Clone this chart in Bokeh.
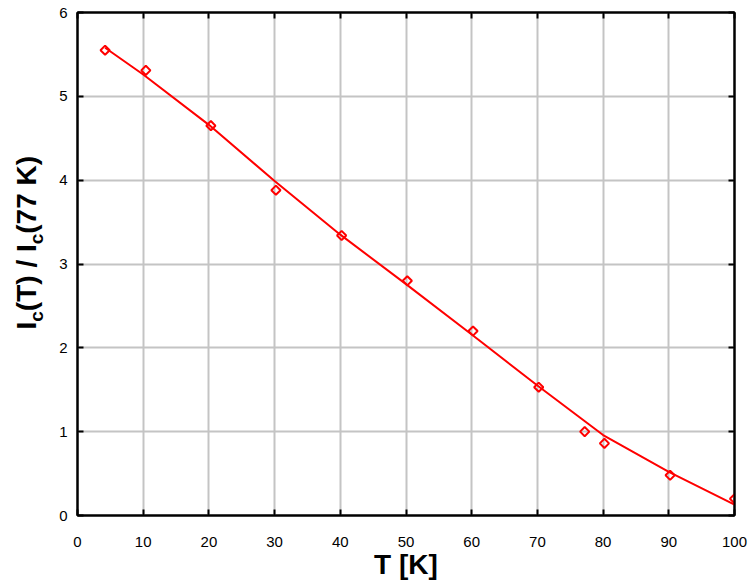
import math
from bokeh.plotting import figure
from bokeh.layouts import row
from bokeh.models import LinearAxis, Range1d, FixedTicker, CustomJSTickFormatter, Grid
from bokeh.core.properties import value
from bokeh.embed import file_html
from bokeh.resources import INLINE

# measured points
temps = [4.2, 10.4, 20.3, 30.2, 40.2, 50.2, 60.2, 70.2, 77.2, 80.2, 90.2, 100.0]
ratio = [5.55, 5.31, 4.65, 3.88, 3.34, 2.80, 2.20, 1.53, 1.00, 0.86, 0.48, 0.20]
# fitted curve
fit_t = [4.2, 10, 20, 30, 40, 50, 60, 70, 80, 90, 100]
fit_v = [5.58, 5.26, 4.66, 3.99, 3.35, 2.76, 2.16, 1.55, 0.96, 0.52, 0.13]
x_ticks = [0, 10, 20, 30, 40, 50, 60, 70, 80, 90, 100]
y_ticks = [0, 1, 2, 3, 4, 5, 6]
x_title = "T [K]"
y_title_parts = ["I", "c", "(T) / I", "c", "(77 K)"]
y_title_sub = [False, True, False, True, False]

FONT = "Liberation Sans"
RED = "#ff0000"
GRID = "#c4c4c4"

TOTAL_W, H = 749, 588
LW = 50                      # width of the y-title strip
W = TOTAL_W - LW
ML, MR, MT, MB = 77 - LW, 15, 12, 73

p = figure(width=W, height=H, x_range=Range1d(0, 100), y_range=Range1d(0, 6),
           output_backend="svg", toolbar_location=None,
           min_border_left=ML, min_border_right=MR, min_border_top=MT, min_border_bottom=MB,
           x_axis_location=None, y_axis_location=None)
p.outline_line_color = "black"
p.outline_line_width = 2
p.background_fill_color = "white"
p.border_fill_color = "white"


def make_axis(labels, ticks):
    ax = LinearAxis(ticker=FixedTicker(ticks=ticks))
    ax.axis_line_color = "black"
    ax.axis_line_width = 2
    ax.major_tick_in = 6
    ax.major_tick_out = 0
    ax.major_tick_line_width = 2
    ax.major_tick_line_color = "black"
    ax.minor_tick_line_color = None
    ax.major_label_text_font = FONT
    ax.major_label_text_font_size = "15px"
    ax.major_label_text_color = "black"
    if not labels:
        ax.formatter = CustomJSTickFormatter(code="return ''")
        ax.major_label_text_font_size = "1px"
        ax.major_label_standoff = 0
    return ax


xb = make_axis(True, x_ticks)
xb.major_label_standoff = 21
xb.axis_label = x_title
xb.axis_label_text_font = FONT
xb.axis_label_text_font_size = "28px"
xb.axis_label_text_font_style = "bold"
xb.axis_label_text_color = "black"
xb.axis_label_standoff = -1
p.add_layout(xb, "below")

yl = make_axis(True, y_ticks)
yl.major_label_standoff = 10
p.add_layout(yl, "left")

p.add_layout(make_axis(False, x_ticks), "above")
p.add_layout(make_axis(False, y_ticks), "right")

p.add_layout(Grid(dimension=0, ticker=FixedTicker(ticks=x_ticks), grid_line_color=GRID, grid_line_width=2))
p.add_layout(Grid(dimension=1, ticker=FixedTicker(ticks=y_ticks), grid_line_color=GRID, grid_line_width=2))

p.line(fit_t, fit_v, line_color=RED, line_width=2)
p.scatter(temps, ratio, marker="square", angle=math.pi / 4, size=6.5,
          fill_color=None, line_color=RED, line_width=2)

# y-axis title strip (pixel coordinates, y up from bottom)
t = figure(title=None, frame_width=LW, frame_height=H,
           x_range=Range1d(0, LW), y_range=Range1d(0, H),
           output_backend="svg", toolbar_location=None,
           min_border_left=0, min_border_right=0, min_border_top=0, min_border_bottom=0,
           x_axis_location=None, y_axis_location=None)
t.outline_line_color = None
t.xgrid.visible = False
t.ygrid.visible = False
t.border_fill_color = "white"
t.background_fill_color = "white"

main_size, sub_size = 28, 19
em_widths = {"I": 0.278, "c": 0.556, "(T) / I": 2.389, "(77 K)": 2.778}
main_base, sub_base = 35.5, 42.5
pos = H - 331 + 14
for txt, is_sub in zip(y_title_parts, y_title_sub):
    size = sub_size if is_sub else main_size
    w = em_widths[txt] * size
    cx = (sub_base if is_sub else main_base) - 0.3465 * size
    t.text(x=[cx], y=[pos + w / 2], text=[txt], angle=math.pi / 2,
           text_font=value(FONT), text_font_size=f"{size}px", text_font_style="bold",
           text_color="black", text_align="center", text_baseline="middle")
    pos += w

layout = row(t, p)
open("out.html", "w").write(file_html(layout, INLINE))
